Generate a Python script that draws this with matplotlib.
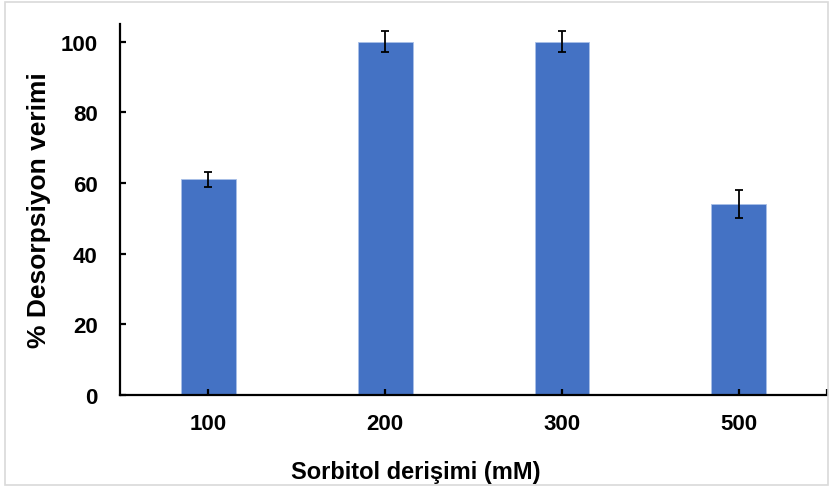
#Bar chart of desorption efficiency vs sorbitol concentration
import matplotlib.pyplot as plt
from matplotlib.patches import Rectangle

categories = ['100', '200', '300', '500']
efficiency = [61, 100, 100, 54]
errors = [2, 3, 3, 4]

plt.rcParams['font.family'] = ['Liberation Sans', 'DejaVu Sans']
plt.rcParams['font.weight'] = 'bold'

fig = plt.figure(figsize=(8.33, 4.89), dpi=100)
ax = fig.add_axes([0.144, 0.19, 0.849, 0.759])

xs = range(len(categories))
ax.bar(xs, efficiency, width=0.31, color='#4472C4', edgecolor='#A9C0E8', linewidth=0.6,
       yerr=errors, error_kw=dict(ecolor='black', elinewidth=1.3, capsize=3, capthick=1.3))

ax.set_xlim(-0.5, 3.5)
ax.set_ylim(0, 105)
ax.set_yticks([0, 20, 40, 60, 80, 100])
ax.set_xticks(list(xs))
ax.set_xticklabels(categories)
ax.set_xticks([3.5], minor=True)

for s in ['top', 'right']:
    ax.spines[s].set_visible(False)
for s in ['left', 'bottom']:
    ax.spines[s].set_linewidth(1.6)

ax.tick_params(axis='both', which='both', direction='in', length=4, width=1.6, labelsize=16)
ax.tick_params(axis='x', pad=13)
ax.tick_params(axis='y', pad=16)

ax.set_xlabel('Sorbitol derişimi (mM)', fontsize=17, fontweight='bold')
ax.set_ylabel('% Desorpsiyon verimi', fontsize=19, fontweight='bold')
ax.xaxis.set_label_coords(0.418, -0.205)
ax.xaxis.label.set_verticalalignment('center')
ax.yaxis.set_label_coords(-0.115, 0.50)
ax.yaxis.label.set_verticalalignment('center')

fig.patches.append(Rectangle((0.006, 0.006), 0.988, 0.988, transform=fig.transFigure,
                             fill=False, edgecolor='#D9D9D9', linewidth=1.2))

fig.savefig('out.png', dpi=100)
